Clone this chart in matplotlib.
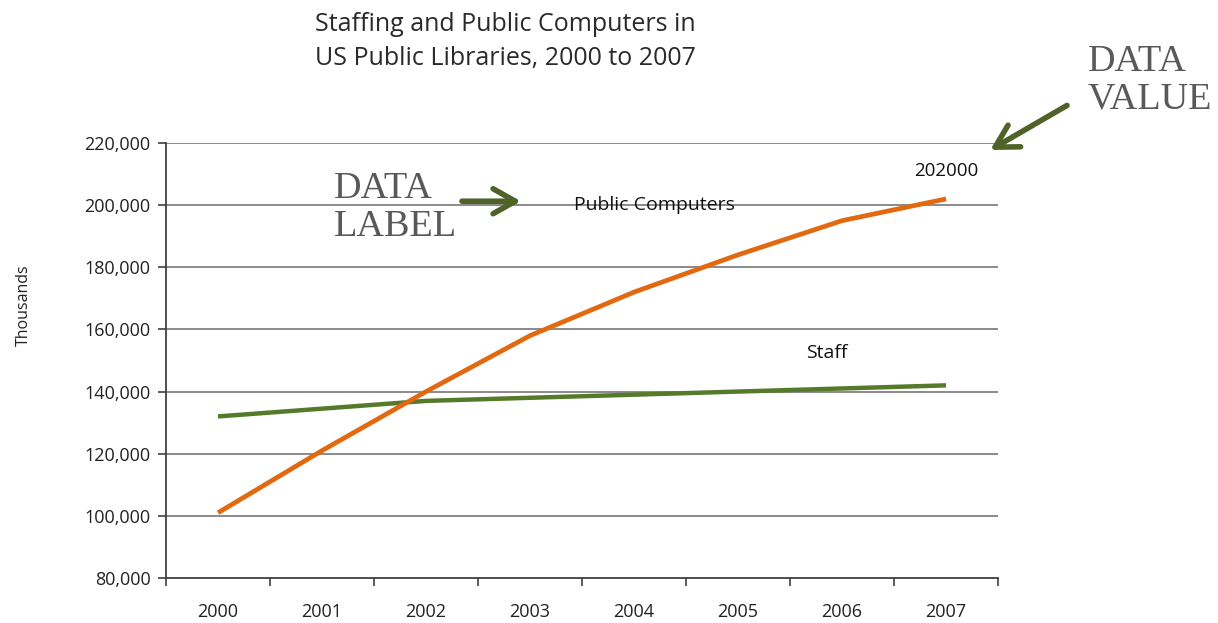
import matplotlib.pyplot as plt
from matplotlib.ticker import FuncFormatter, FixedLocator

years = ["2000", "2001", "2002", "2003", "2004", "2005", "2006", "2007"]
public_computers = [101000, 121000, 140000, 158000, 172000, 184000, 195000, 202000]
staff = [132000, 134500, 137000, 138000, 139000, 140000, 141000, 142000]
y_ticks = [80000, 100000, 120000, 140000, 160000, 180000, 200000, 220000]

orange = "#E2690F"
green = "#557A2A"
arrow_green = "#4F6228"
body_font = ["Open Sans", "DejaVu Sans"]
note_font = ["Liberation Serif", "DejaVu Serif"]

fig = plt.figure(figsize=(12.18, 6.23), dpi=100)
ax = fig.add_axes([0.1363, 0.0722, 0.6831, 0.6983])

x = list(range(len(years)))
ax.plot(x, staff, color=green, lw=3.2, solid_capstyle="butt", zorder=3)
ax.plot(x, public_computers, color=orange, lw=3.4, solid_capstyle="butt", zorder=4)

ax.set_xlim(-0.5, len(years) - 0.5)
ax.set_ylim(y_ticks[0], y_ticks[-1])
ax.set_yticks(y_ticks)
ax.yaxis.set_major_formatter(FuncFormatter(lambda v, p: f"{int(v):,}"))
ax.set_xticks(x)
ax.set_xticklabels(years)
ax.xaxis.set_minor_locator(FixedLocator([i - 0.5 for i in range(len(years) + 1)]))

for v in y_ticks[1:]:
    ax.axhline(v, color="#8a8a8a", lw=1.4, zorder=1)

for side in ["top", "right"]:
    ax.spines[side].set_visible(False)
for side in ["left", "bottom"]:
    ax.spines[side].set_color("#404040")
    ax.spines[side].set_linewidth(1.3)

ax.tick_params(axis="y", direction="out", length=6, width=1.2, color="#404040",
               pad=5, labelsize=13, labelcolor="#222222")
ax.tick_params(axis="x", which="major", length=0, pad=18, labelsize=13,
               labelcolor="#222222")
ax.tick_params(axis="x", which="minor", direction="out", length=6, width=1.2,
               color="#404040")
for lab in ax.get_xticklabels() + ax.get_yticklabels():
    lab.set_family(body_font)

fig.text(0.02, 0.51, "Thousands", rotation=90, ha="center", va="center",
         fontsize=11.5, family=body_font, color="#222222")

fig.text(0.415, 0.933, "Staffing and Public Computers in\nUS Public Libraries, 2000 to 2007",
         ha="center", va="center", fontsize=18, family=body_font,
         color="#2a2a2a", linespacing=1.45)

# series labels and the last value
ax.text(4.2, 200000, "Public Computers", ha="center", va="center", fontsize=14,
        family=body_font, color="#111111", zorder=5)
ax.text(5.85, 152500, "Staff", ha="center", va="center", fontsize=14,
        family=body_font, color="#111111", zorder=5)
ax.text(7, public_computers[-1] + 9000, f"{public_computers[-1]}", ha="center",
        va="center", fontsize=13.5, family=body_font, color="#111111", zorder=5)

# callouts
fig.text(0.274, 0.666, "DATA\nLABEL", ha="left", va="center", fontsize=27.5,
         family=note_font, color="#595959", linespacing=1.12)
fig.text(0.893, 0.871, "DATA\nVALUE", ha="left", va="center", fontsize=27.5,
         family=note_font, color="#595959", linespacing=1.12)

arrow_style = dict(arrowstyle="->,head_length=0.8,head_width=0.45",
                   color=arrow_green, lw=4.0, mutation_scale=20)
fig.add_artist(plt.Annotation("", xy=(0.43, 0.677), xytext=(0.377, 0.677),
                              xycoords="figure fraction", arrowprops=arrow_style))
fig.add_artist(plt.Annotation("", xy=(0.811, 0.757), xytext=(0.878, 0.833),
                              xycoords="figure fraction", arrowprops=arrow_style))

fig.savefig("out.png", dpi=100, facecolor="white")
